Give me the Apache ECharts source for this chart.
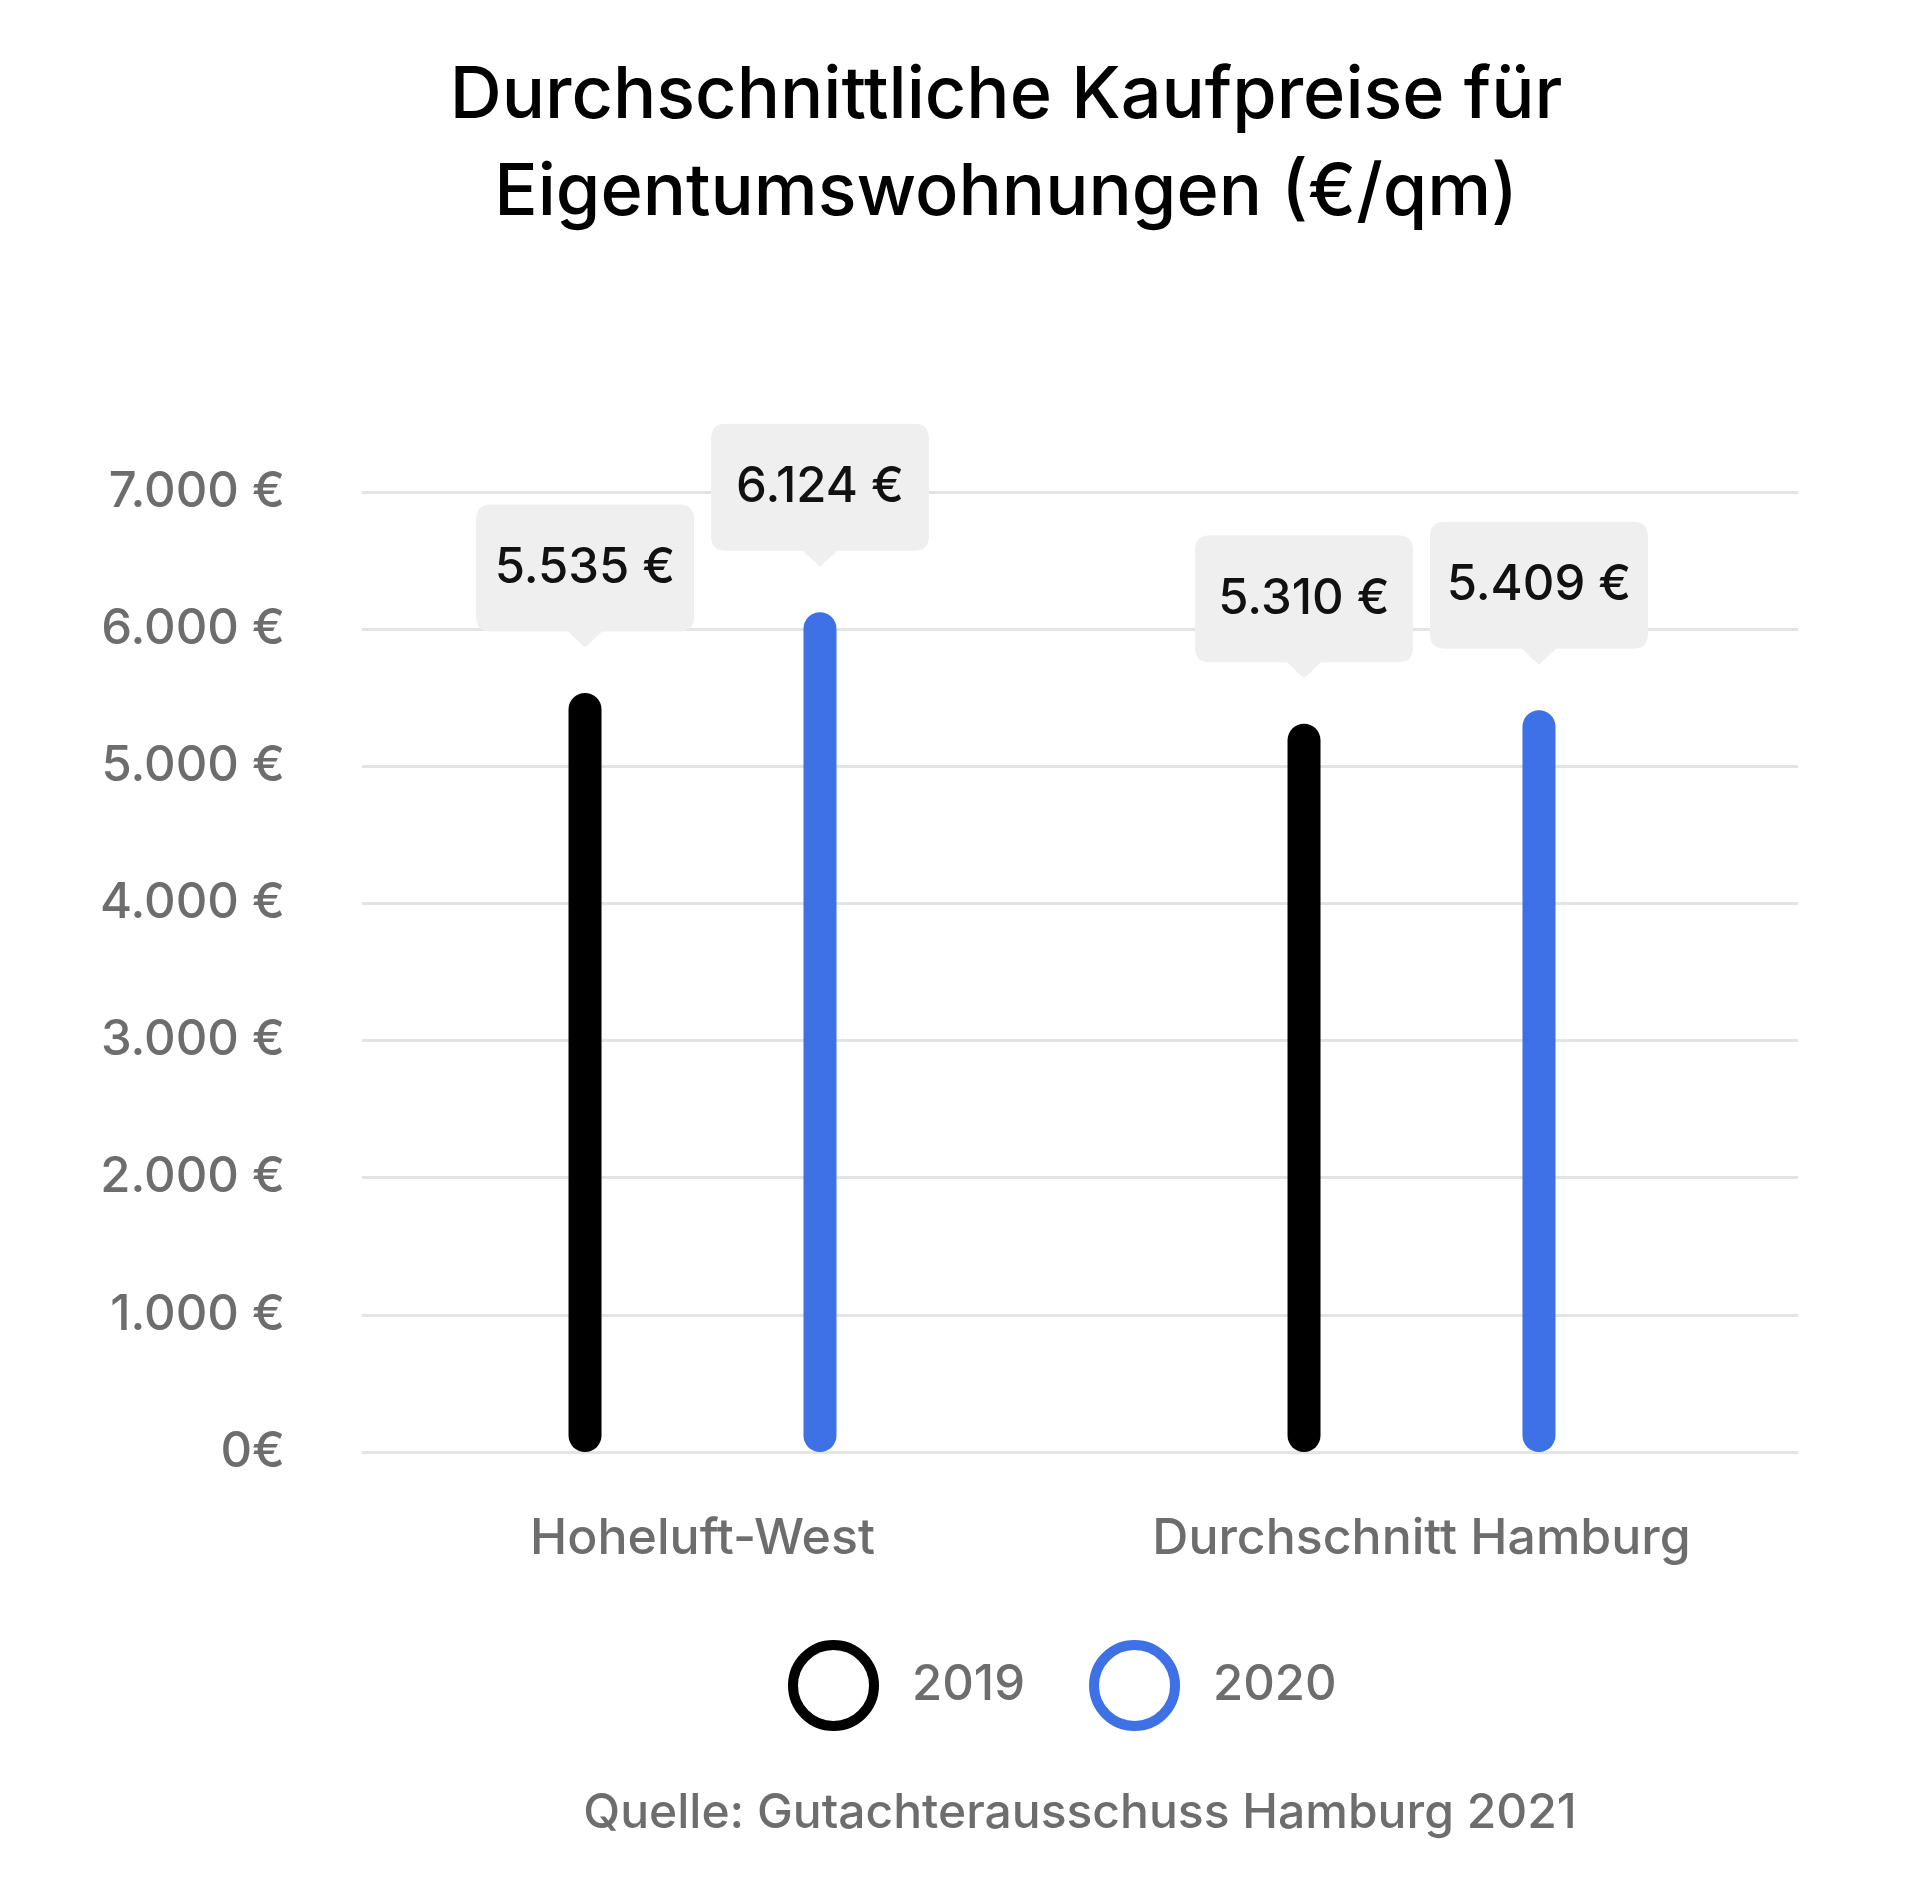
<!DOCTYPE html>
<html>
<head>
<meta charset="utf-8">
<script src="https://cdn.jsdelivr.net/npm/echarts@6/dist/echarts.min.js"></script>
<style>
html,body{margin:0;padding:0;background:#fff;}
#chart{width:1920px;height:1884px;}
</style>
</head>
<body>
<div id="chart"></div>
<script>
const categories = ['Hoheluft-West', 'Durchschnitt Hamburg'];
const seriesNames = ['2019', '2020'];
const values2019 = [5535, 5310];
const values2020 = [6124, 5409];
const yTicks = [0, 1000, 2000, 3000, 4000, 5000, 6000, 7000];
const titleLines = ['Durchschnittliche Kaufpreise für', 'Eigentumswohnungen (€/qm)'];
const sourceText = 'Quelle: Gutachterausschuss Hamburg 2021';

const FONT = 'Inter';
const GRAY = '#6d6d6d';
const BLACK = '#000000';
const BLUE = '#3e70e6';
const BOX = '#efefef';

function fmt(v) {
  if (v === 0) return '0€';
  return String(v).replace(/\B(?=(\d{3})+(?!\d))/g, '.') + ' €';
}

const calloutPath = 'path://M15,0H203Q218,0 218,15V112Q218,127 203,127H126L109,143L92,127H15Q0,127 0,112V15Q0,0 15,0Z';
const halfSpacing = 117.5;

function callout(name, data, dx) {
  return {
    name: name,
    type: 'scatter',
    xAxisIndex: 1, yAxisIndex: 1,
    data: data,
    symbol: calloutPath,
    symbolSize: [218, 143],
    symbolOffset: [dx, -117],
    itemStyle: { color: BOX, opacity: 1 },
    label: {
      show: true, position: 'inside', offset: [0, -8],
      formatter: p => fmt(p.value),
      fontFamily: FONT, fontSize: 49, fontWeight: 500, color: '#111'
    },
    silent: true, z: 5
  };
}

const chart = echarts.init(document.getElementById('chart'), null, { renderer: 'canvas' });
chart.setOption({
  backgroundColor: '#ffffff',
  animation: false,
  textStyle: { fontFamily: FONT },
  graphic: [
    { type: 'text', style: { text: titleLines[0], x: 1006, y: 96, textAlign: 'center', textVerticalAlign: 'middle', font: '500 72px Inter', fill: '#000' } },
    { type: 'text', style: { text: titleLines[1], x: 1006, y: 193, textAlign: 'center', textVerticalAlign: 'middle', font: '500 72px Inter', fill: '#000' } },
    { type: 'text', style: { text: sourceText, x: 1080, y: 1814, textAlign: 'center', textVerticalAlign: 'middle', font: '500 48px Inter', fill: GRAY } }
  ],
  legend: {
    left: 783, top: 1635,
    itemWidth: 81, itemHeight: 81, itemGap: 64,
    icon: 'circle',
    data: [
      { name: seriesNames[0], icon: 'circle', itemStyle: { color: '#fff', borderColor: BLACK, borderWidth: 10 } },
      { name: seriesNames[1], icon: 'circle', itemStyle: { color: '#fff', borderColor: BLUE, borderWidth: 10 } }
    ],
    textStyle: { fontFamily: FONT, fontSize: 49, fontWeight: 500, color: GRAY, padding: [0, 0, 0, 33] },
    selectedMode: false
  },
  grid: [
    { left: 362, right: 122, top: 492, height: 960 },
    { left: 343, right: 139, top: 492, height: 960 }
  ],
  xAxis: [
    { type: 'category', gridIndex: 0, data: categories, show: false },
    {
      type: 'category', gridIndex: 1, data: categories,
      axisLine: { show: false }, axisTick: { show: false },
      axisLabel: { margin: 62, fontFamily: FONT, fontSize: 50, fontWeight: 500, color: GRAY }
    }
  ],
  yAxis: [
    {
      type: 'value', gridIndex: 0, min: 0, max: 7000, interval: 1000,
      axisLine: { show: false }, axisTick: { show: false },
      splitLine: { lineStyle: { color: '#e4e4e4', width: 3 } },
      axisLabel: { margin: 77, formatter: v => fmt(v), fontFamily: FONT, fontSize: 49, fontWeight: 500, color: GRAY }
    },
    { type: 'value', gridIndex: 1, min: 0, max: 7000, interval: 1000, show: false, splitLine: { show: false } }
  ],
  series: [
    {
      name: seriesNames[0], type: 'bar', xAxisIndex: 1, yAxisIndex: 1,
      data: values2019, barWidth: 33, barGap: '612%',
      itemStyle: { color: BLACK, borderRadius: 16.5 }
    },
    {
      name: seriesNames[1], type: 'bar', xAxisIndex: 1, yAxisIndex: 1,
      data: values2020, barWidth: 33, barGap: '612%',
      itemStyle: { color: BLUE, borderRadius: 16.5 }
    },
    callout('lbl2019', values2019, -halfSpacing),
    callout('lbl2020', values2020, halfSpacing)
  ]
});
</script>
</body>
</html>
